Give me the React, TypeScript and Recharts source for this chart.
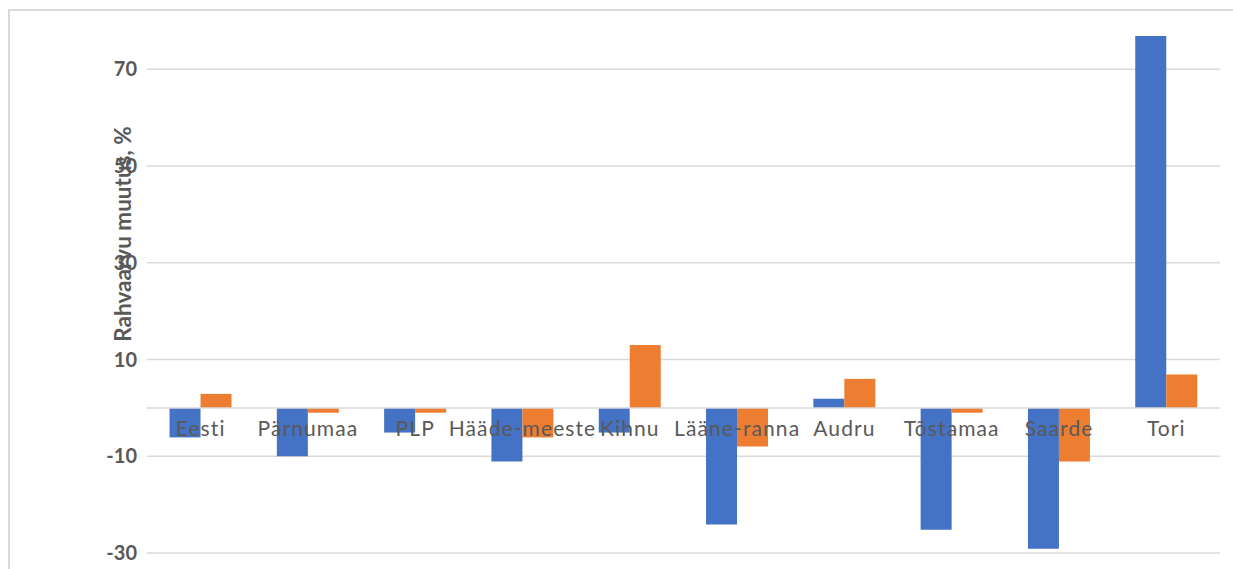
import React from 'react';
import { BarChart, Bar, XAxis, YAxis, CartesianGrid, ReferenceLine } from 'recharts';

document.body.style.margin = '0';
document.documentElement.style.overflow = 'hidden';

const categories = ['Eesti', 'Pärnumaa', 'PLP', 'Hääde-meeste', 'Kihnu', 'Lääne-ranna', 'Audru', 'Tõstamaa', 'Saarde', 'Tori'];
const seriesA = [-6.1, -10, -5.1, -11.1, -5.1, -24.1, 1.9, -25.2, -29.1, 76.9];
const seriesB = [2.9, -1, -1, -6.1, 13, -8, 6, -1, -11.1, 6.9];
const yTicks = [-30, -10, 10, 30, 50, 70];
const yMin = -30;
const yMax = 80;

const data = categories.map((name, i) => ({ name, a: seriesA[i], b: seriesB[i] }));

const W = 1223;
const H = 558;
const M = { top: 10, right: 13, left: 0, bottom: 0 };
const XH = 16;
const plotH = H - M.top - M.bottom - XH;
const zeroY = M.top + (plotH * yMax) / (yMax - yMin);

const CatTick = (props: any) => {
  const { x, payload } = props;
  return (
    <text
      x={x}
      y={zeroY + 28}
      textAnchor="middle"
      fill="#595959"
      fontSize={21}
      fontFamily="Lato"
      letterSpacing={1.1}
    >
      {payload.value}
    </text>
  );
};

const YTitle = (props: any) => {
  const { viewBox } = props;
  const cx = viewBox.x + 121;
  const cy = 223;
  return (
    <text
      x={cx}
      y={cy}
      transform={`rotate(-90 ${cx} ${cy})`}
      textAnchor="middle"
      fill="#595959"
      fontSize={22.5}
      fontWeight={700}
      fontFamily="Lato"
    >
      Rahvaarvu muutus, %
    </text>
  );
};

export default function App() {
  return (
    <div
      style={{
        marginLeft: 8,
        marginTop: 9,
        width: 1225,
        height: 560,
        boxSizing: 'border-box',
        borderTop: '2px solid #d9d9d9',
        borderLeft: '2px solid #d9d9d9',
        background: '#fff',
      }}
    >
      <BarChart width={W} height={H} data={data} margin={M} barCategoryGap="21%" barGap={0}>
        <CartesianGrid
          vertical={false}
          stroke="#d9d9d9"
          strokeWidth={1.5}
          horizontalValues={yTicks}
        />
        <XAxis
          dataKey="name"
          height={XH}
          axisLine={false}
          tickLine={false}
          interval={0}
          tick={<CatTick />}
        />
        <YAxis
          width={137}
          domain={[yMin, yMax]}
          ticks={yTicks}
          axisLine={false}
          tickLine={false}
          tickSize={0}
          tickMargin={10}
          tick={{ fill: '#595959', fontSize: 20, fontWeight: 700, fontFamily: 'Lato' }}
          label={<YTitle />}
        />
        <ReferenceLine y={0} stroke="#d9d9d9" strokeWidth={1.5} />
        <Bar dataKey="a" fill="#4472C4" isAnimationActive={false} />
        <Bar dataKey="b" fill="#ED7D31" isAnimationActive={false} />
      </BarChart>
    </div>
  );
}
